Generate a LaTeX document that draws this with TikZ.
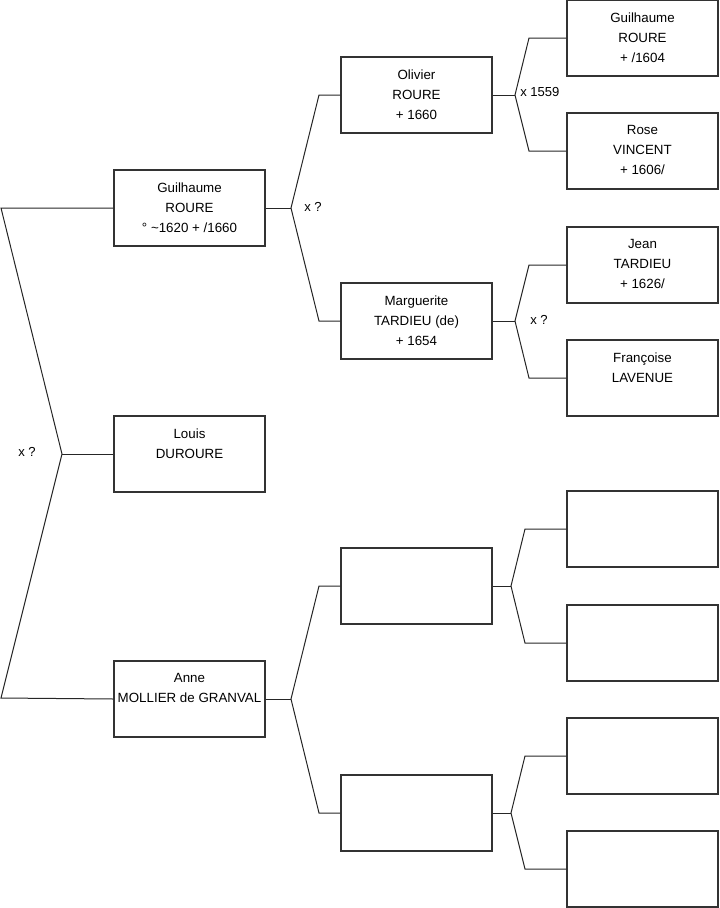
\documentclass[tikz,border=0pt]{standalone}
\usepackage{fontspec}
\setmainfont{Liberation Sans}
\begin{document}
\begin{tikzpicture}[x=0.75pt,y=-0.75pt,
  pbox/.style={draw=black!80,line width=0.8pt,minimum width=113.25pt,minimum height=57pt,inner sep=0pt},
  ptext/.style={anchor=north,align=center,inner sep=0pt,font=\fontsize{10}{15}\selectfont},
  link/.style={draw=black!85,line width=0.75pt},
  lbl/.style={anchor=west,inner sep=0pt,font=\fontsize{9.8}{11}\selectfont}]
\useasboundingbox (0,0) rectangle (719,908);
% column 1
\node[pbox] (g1) at (189.5,208) {};
\node[pbox] (l1) at (189.5,454) {};
\node[pbox] (a1) at (189.5,699) {};
% column 2
\node[pbox] (o2) at (416.5,95) {};
\node[pbox] (m2) at (416.5,321) {};
\node[pbox] (e2a) at (416.5,586) {};
\node[pbox] (e2b) at (416.5,813) {};
% column 3
\node[pbox] (c1) at (642.5,38) {};
\node[pbox] (c2) at (642.5,151) {};
\node[pbox] (c3) at (642.5,265) {};
\node[pbox] (c4) at (642.5,378) {};
\node[pbox] (c5) at (642.5,529) {};
\node[pbox] (c6) at (642.5,643) {};
\node[pbox] (c7) at (642.5,756) {};
\node[pbox] (c8) at (642.5,869) {};
% texts
\node[ptext] (tg1) at ([yshift=-9.5pt]g1.north) {Guilhaume\\ROURE\\° \textasciitilde1620 + /1660};
\node[ptext] (tl1) at ([yshift=-9.5pt]l1.north) {Louis\\DUROURE};
\node[ptext] (ta1) at ([yshift=-9.5pt]a1.north) {Anne\\MOLLIER de GRANVAL};
\node[ptext] (to2) at ([yshift=-9.5pt]o2.north) {Olivier\\ROURE\\+ 1660};
\node[ptext] (tm2) at ([yshift=-9.5pt]m2.north) {Marguerite\\TARDIEU (de)\\+ 1654};
\node[ptext] (tc1) at ([yshift=-9.5pt]c1.north) {Guilhaume\\ROURE\\+ /1604};
\node[ptext] (tc2) at ([yshift=-9.5pt]c2.north) {Rose\\VINCENT\\+ 1606/};
\node[ptext] (tc3) at ([yshift=-9.5pt]c3.north) {Jean\\TARDIEU\\+ 1626/};
\node[ptext] (tc4) at ([yshift=-9.5pt]c4.north) {Françoise\\LAVENUE};
% fork coordinates
\coordinate (f0) at (62,454);
\coordinate (f0a) at (1,208);
\coordinate (f0b) at (1,698);
\coordinate (f1) at (291,208);
\coordinate (f1a) at (319,95);
\coordinate (f1b) at (319,321);
\coordinate (f2) at (291,699);
\coordinate (f2a) at (319,586);
\coordinate (f2b) at (319,813);
\coordinate (f3) at (515,95);
\coordinate (f3a) at (529,38);
\coordinate (f3b) at (529,151);
\coordinate (f4) at (515,321);
\coordinate (f4a) at (529,265);
\coordinate (f4b) at (529,378);
\coordinate (f5) at (511,586);
\coordinate (f5a) at (525,529);
\coordinate (f5b) at (525,643);
\coordinate (f6) at (511,813);
\coordinate (f6a) at (525,756);
\coordinate (f6b) at (525,869);
% connectors
\draw[link] (g1.west) -- (f0a) -- (f0) -- (f0b) -- (a1.west);
\draw[link] (f0) -- (l1.west);
\draw[link] (g1.east) -- (f1);
\draw[link] (o2.west) -- (f1a) -- (f1) -- (f1b) -- (m2.west);
\draw[link] (a1.east) -- (f2);
\draw[link] (e2a.west) -- (f2a) -- (f2) -- (f2b) -- (e2b.west);
\draw[link] (o2.east) -- (f3);
\draw[link] (c1.west) -- (f3a) -- (f3) -- (f3b) -- (c2.west);
\draw[link] (m2.east) -- (f4);
\draw[link] (c3.west) -- (f4a) -- (f4) -- (f4b) -- (c4.west);
\draw[link] (e2a.east) -- (f5);
\draw[link] (c5.west) -- (f5a) -- (f5) -- (f5b) -- (c6.west);
\draw[link] (e2b.east) -- (f6);
\draw[link] (c7.west) -- (f6a) -- (f6) -- (f6b) -- (c8.west);
% marriage labels
\node[lbl] (x0) at (18,452) {x ?};
\node[lbl] (x1) at (304,207) {x ?};
\node[lbl] (x3) at (520,92) {x 1559};
\node[lbl] (x4) at (530,320) {x ?};
\end{tikzpicture}
\end{document}
